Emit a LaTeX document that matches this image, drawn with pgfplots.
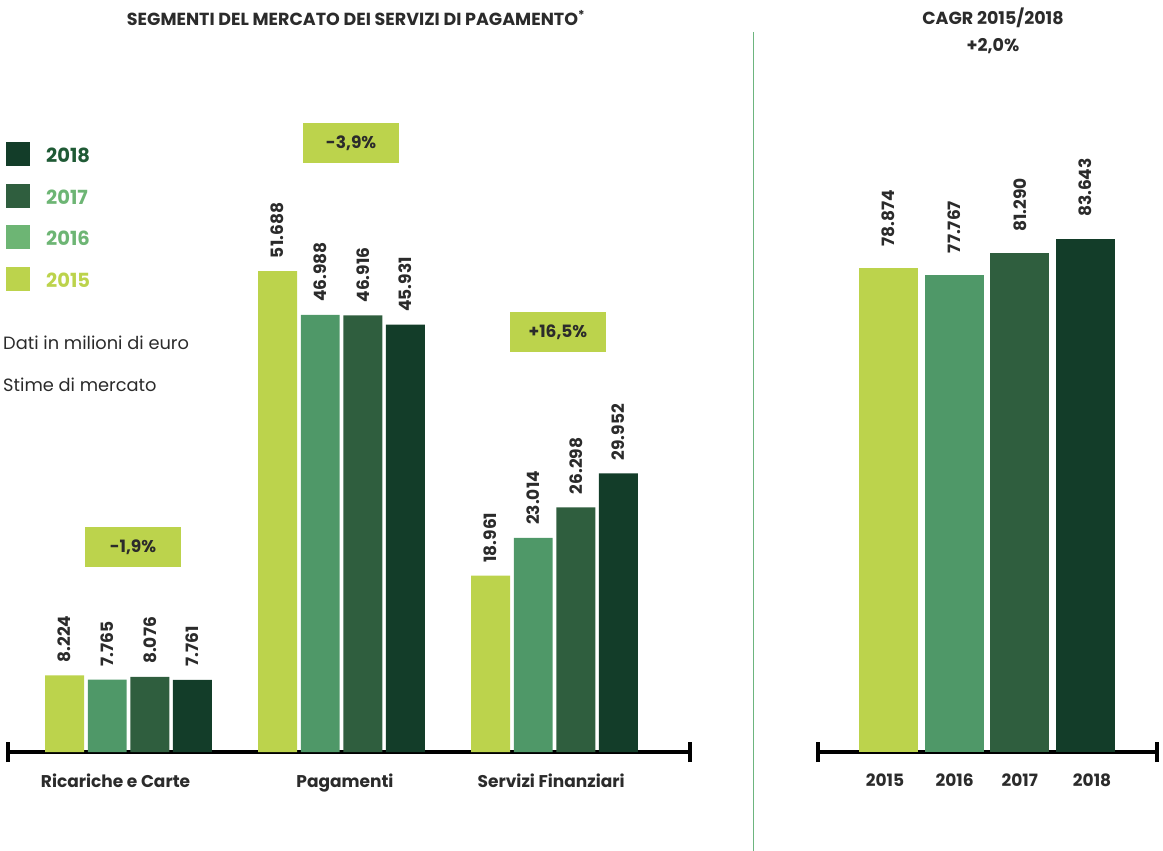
\documentclass[border=0pt]{standalone}
\usepackage{pgfplots}
\pgfplotsset{compat=1.18}
\usepackage{fontspec}
\setmainfont{Poppins}
\definecolor{c15}{HTML}{BCD34C}
\definecolor{c16}{HTML}{4F9868}
\definecolor{c17}{HTML}{2F5E3E}
\definecolor{c18}{HTML}{133D29}
\definecolor{l16}{HTML}{6DB574}
\definecolor{l18}{HTML}{1F5A35}
\definecolor{txt}{HTML}{2B2B2B}
\definecolor{sepc}{HTML}{6DB57F}
\pgfkeys{/pgf/number format/.cd, fixed, precision=0, 1000 sep={.}, assume math mode=true}
\newcommand{\barfont}{\fontsize{17}{20}\selectfont\bfseries}
\newcommand{\labfont}{\fontsize{17}{20}\selectfont\bfseries}
\newcommand{\titfont}{\fontsize{17.5}{20}\selectfont\bfseries}

\begin{document}
\begin{tikzpicture}
\path[use as bounding box] (0,0) rectangle (1163pt,-851pt);

% titles
\node[font=\titfont, text=txt] at (356pt,-18pt) {SEGMENTI DEL MERCATO DEI SERVIZI DI PAGAMENTO\textsuperscript{*}};
\node[font=\titfont, text=txt] at (993pt,-18pt) {CAGR 2015/2018};
\node[font=\titfont, text=txt] at (993pt,-46pt) {+2,0\%};

% separator
\draw[sepc, line width=1.8pt] (753.5pt,-32pt) -- (753.5pt,-851pt);

% legend
\fill[c18] (6pt,-142pt) rectangle (30pt,-166pt);
\fill[c17] (6pt,-184pt) rectangle (30pt,-208pt);
\fill[l16] (6pt,-225pt) rectangle (30pt,-249pt);
\fill[c15] (6pt,-267pt) rectangle (30pt,-291pt);
\node[anchor=west, inner sep=0pt, font=\fontsize{19.5}{22}\selectfont\bfseries, text=l18] at (46pt,-155pt) {2018};
\node[anchor=west, inner sep=0pt, font=\fontsize{19.5}{22}\selectfont\bfseries, text=l16] at (46pt,-197pt) {2017};
\node[anchor=west, inner sep=0pt, font=\fontsize{19.5}{22}\selectfont\bfseries, text=l16] at (46pt,-238pt) {2016};
\node[anchor=west, inner sep=0pt, font=\fontsize{19.5}{22}\selectfont\bfseries, text=c15] at (46pt,-280pt) {2015};
\node[anchor=west, inner sep=0pt, font=\fontsize{17.8}{20}\selectfont, text=txt] at (3pt,-343pt) {Dati in milioni di euro};
\node[anchor=west, inner sep=0pt, font=\fontsize{17.8}{20}\selectfont, text=txt] at (3pt,-385pt) {Stime di mercato};

% left chart
\begin{axis}[
  at={(8pt,-752pt)}, anchor=south west, scale only axis,
  width=682pt, height=511.8pt,
  xmin=-0.566, xmax=2.636, ymin=0, ymax=55000,
  axis x line=bottom, axis y line=none,
  x axis line style={line width=3.5pt, -, black},
  xtick={-0.061,1.016,1.984},
  xticklabels={Ricariche e Carte, Pagamenti, Servizi Finanziari},
  major tick length=0pt,
  xticklabel style={font=\labfont, text=txt, inner sep=0pt, yshift=-22pt},
  clip=false,
  ybar, bar width=0.183,
  nodes near coords,
  every node near coord/.append style={rotate=90, anchor=west, inner xsep=13pt, inner ysep=0pt, outer sep=0pt, font=\barfont, text=txt},
]
\addplot[fill=c15, draw=none, bar shift=0pt] coordinates {(-0.300,8224) (0.700,51688) (1.700,18961)};
\addplot[fill=c16, draw=none, bar shift=0pt] coordinates {(-0.100,7765) (0.900,46988) (1.900,23014)};
\addplot[fill=c17, draw=none, bar shift=0pt] coordinates {(0.100,8076) (1.100,46916) (2.100,26298)};
\addplot[fill=c18, draw=none, bar shift=0pt] coordinates {(0.300,7761) (1.300,45931) (2.300,29952)};
\draw[line width=3.5pt] (rel axis cs:0,0) ++(0pt,-10pt) -- ++(0pt,20pt);
\draw[line width=3.5pt] (rel axis cs:1,0) ++(0pt,-10pt) -- ++(0pt,20pt);
\node[fill=c15, minimum width=96pt, minimum height=40pt, inner sep=0pt, font=\labfont, text=txt] at (axis cs:0.021,22030) {-1,9\%};
\node[fill=c15, minimum width=96pt, minimum height=40pt, inner sep=0pt, font=\labfont, text=txt] at (axis cs:1.045,65440) {-3,9\%};
\node[fill=c15, minimum width=96pt, minimum height=40pt, inner sep=0pt, font=\labfont, text=txt] at (axis cs:2.016,45130) {+16,5\%};
\end{axis}

% right chart
\begin{axis}[
  at={(818pt,-752pt)}, anchor=south west, scale only axis,
  width=339pt, height=552pt,
  xmin=-1.074, xmax=4.089, ymin=0, ymax=90000,
  axis x line=bottom, axis y line=none,
  x axis line style={line width=3.5pt, -, black},
  xtick={-0.053,1.008,2.0,3.1},
  xticklabels={2015, 2016, 2017, 2018},
  major tick length=0pt,
  xticklabel style={font=\labfont, text=txt, inner sep=0pt, yshift=-22pt},
  clip=false,
  ybar, bar width=0.9,
  nodes near coords,
  every node near coord/.append style={rotate=90, anchor=west, inner xsep=22pt, inner ysep=0pt, outer sep=0pt, font=\barfont, text=txt},
]
\addplot[fill=c15, draw=none, bar shift=0pt] coordinates {(0,78874)};
\addplot[fill=c16, draw=none, bar shift=0pt] coordinates {(1,77767)};
\addplot[fill=c17, draw=none, bar shift=0pt] coordinates {(2,81290)};
\addplot[fill=c18, draw=none, bar shift=0pt] coordinates {(3,83643)};
\draw[line width=3.5pt] (rel axis cs:0,0) ++(0pt,-10pt) -- ++(0pt,20pt);
\draw[line width=3.5pt] (rel axis cs:1,0) ++(0pt,-10pt) -- ++(0pt,20pt);
\end{axis}
\end{tikzpicture}
\end{document}
